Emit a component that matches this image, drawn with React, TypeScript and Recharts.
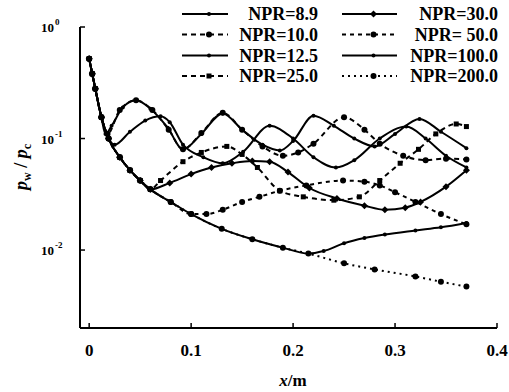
import { LineChart, Line, XAxis, YAxis } from "recharts";

// shared wall-pressure decay before separation
const envelope: [number, number][] = [
  [0, 0.52], [0.003, 0.38], [0.006, 0.28], [0.012, 0.155], [0.019, 0.1],
  [0.03, 0.068], [0.04, 0.052], [0.05, 0.042], [0.06, 0.035], [0.08, 0.027],
  [0.1, 0.021], [0.13, 0.0155], [0.16, 0.0125], [0.19, 0.0105], [0.215, 0.0093],
];

// each NPR: where it leaves the envelope, then its own points
const tail89: [number, number][] = [
  [0.016, 0.11], [0.022, 0.13], [0.033, 0.19], [0.046, 0.22], [0.06, 0.185],
  [0.077, 0.125], [0.092, 0.08], [0.11, 0.11], [0.131, 0.168], [0.15, 0.12],
  [0.17, 0.088], [0.187, 0.078], [0.2, 0.095], [0.22, 0.16], [0.24, 0.13],
  [0.26, 0.1], [0.28, 0.085], [0.3, 0.11], [0.324, 0.15], [0.345, 0.115], [0.37, 0.082],
];
const tail10: [number, number][] = [
  [0.018, 0.11], [0.03, 0.18], [0.046, 0.22], [0.062, 0.18], [0.078, 0.12],
  [0.092, 0.08], [0.11, 0.112], [0.131, 0.17], [0.15, 0.12], [0.17, 0.085],
  [0.19, 0.07], [0.205, 0.075], [0.22, 0.09], [0.25, 0.155], [0.27, 0.12],
  [0.285, 0.09], [0.308, 0.07], [0.33, 0.064], [0.35, 0.066], [0.37, 0.065],
];
const tail125: [number, number][] = [
  [0.025, 0.088], [0.04, 0.115], [0.055, 0.145], [0.07, 0.158], [0.079, 0.14],
  [0.092, 0.088], [0.112, 0.068], [0.131, 0.06], [0.151, 0.076], [0.177, 0.13],
  [0.2, 0.1], [0.22, 0.068], [0.242, 0.055], [0.26, 0.064], [0.285, 0.1],
  [0.311, 0.128], [0.33, 0.1], [0.35, 0.07], [0.37, 0.055],
];
const tail25: [number, number][] = [
  [0.07, 0.042], [0.092, 0.062], [0.11, 0.075], [0.135, 0.085], [0.15, 0.072],
  [0.165, 0.055], [0.187, 0.034], [0.21, 0.03], [0.24, 0.028], [0.265, 0.03],
  [0.285, 0.042], [0.305, 0.06], [0.323, 0.08], [0.34, 0.11], [0.36, 0.135], [0.37, 0.128],
];
const tail30: [number, number][] = [
  [0.079, 0.04], [0.1, 0.048], [0.12, 0.055], [0.14, 0.06], [0.16, 0.063],
  [0.177, 0.062], [0.195, 0.05], [0.216, 0.036], [0.243, 0.029], [0.27, 0.025],
  [0.29, 0.023], [0.31, 0.024], [0.325, 0.027], [0.35, 0.037], [0.37, 0.052],
];
const tail50: [number, number][] = [
  [0.115, 0.021], [0.131, 0.023], [0.15, 0.027], [0.167, 0.03], [0.187, 0.034],
  [0.213, 0.038], [0.249, 0.042], [0.27, 0.041], [0.285, 0.038], [0.3, 0.033],
  [0.32, 0.027], [0.345, 0.021], [0.37, 0.017],
];
const tail100: [number, number][] = [
  [0.23, 0.0098], [0.25, 0.0115], [0.27, 0.0128], [0.29, 0.0138], [0.32, 0.015],
  [0.345, 0.016], [0.37, 0.0175],
];
const tail200: [number, number][] = [
  [0.25, 0.0076], [0.28, 0.0067], [0.32, 0.0058], [0.345, 0.0052], [0.37, 0.0047],
];

const xTicks = [0, 0.1, 0.2, 0.3, 0.4];
const yTicks = [0.01, 0.1, 1];
const yExponents: Record<string, string> = { "0.01": "-2", "0.1": "-1", "1": "0" };

const build = (until: number, tail: [number, number][]) =>
  [...envelope.filter((p) => p[0] <= until), ...tail].map(([x, y]) => ({ x, y }));

type DotKind = "small" | "big" | "square" | "diamond";

const series: { name: string; data: { x: number; y: number }[]; dash?: string; dot: DotKind }[] = [
  { name: "NPR=8.9", data: build(0.012, tail89), dot: "small" },
  { name: "NPR=10.0", data: build(0.012, tail10), dash: "5 4", dot: "big" },
  { name: "NPR=12.5", data: build(0.019, tail125), dot: "small" },
  { name: "NPR=25.0", data: build(0.06, tail25), dash: "5 4", dot: "square" },
  { name: "NPR=30.0", data: build(0.06, tail30), dot: "diamond" },
  { name: "NPR= 50.0", data: build(0.1, tail50), dash: "4 4", dot: "big" },
  { name: "NPR=100.0", data: build(0.215, tail100), dot: "small" },
  { name: "NPR=200.0", data: build(0.215, tail200), dash: "2 4", dot: "big" },
];

const FONT = '"Liberation Serif", "Times New Roman", serif';
const AXIS_X = 80;

const Marker = ({ kind, cx, cy }: { kind: DotKind; cx: number; cy: number }) => {
  if (kind === "square") return <rect x={cx - 2.5} y={cy - 2.5} width={5} height={5} fill="#000" />;
  if (kind === "diamond")
    return <path d={`M${cx},${cy - 3.5}L${cx + 3.5},${cy}L${cx},${cy + 3.5}L${cx - 3.5},${cy}Z`} fill="#000" />;
  return <circle cx={cx} cy={cy} r={kind === "big" ? 3 : 2} fill="#000" />;
};

const dotFor = (kind: DotKind, name: string) => (props: any) => {
  const { cx, cy, index } = props;
  if (cx == null || cy == null) return <g key={`${name}-${index}`} />;
  return (
    <g key={`${name}-${index}`}>
      <Marker kind={kind} cx={cx} cy={cy} />
    </g>
  );
};

const XTick = ({ x, y, payload }: any) => (
  <g>
    <line x1={x} x2={x} y1={y} y2={y - 5} stroke="#000" strokeWidth={1.5} />
    <text x={x} y={y + 28} textAnchor="middle" fontFamily={FONT} fontSize={17} fontWeight="bold" fill="#000">
      {payload.value}
    </text>
  </g>
);

const YTick = ({ y, payload }: any) => (
  <g>
    <line x1={AXIS_X} x2={AXIS_X + 5} y1={y} y2={y} stroke="#000" strokeWidth={1.5} />
    <text x={AXIS_X - 26} y={y + 5} textAnchor="end" fontFamily={FONT} fontSize={13} fontWeight="bold" fill="#000">
      10
    </text>
    <text x={AXIS_X - 25} y={y - 2} textAnchor="start" fontFamily={FONT} fontSize={9} fontWeight="bold" fill="#000">
      {yExponents[String(payload.value)]}
    </text>
  </g>
);

const legendCols = [
  { lineX1: 182, lineX2: 228, textRight: 318 },
  { lineX1: 342, lineX2: 397, textRight: 498 },
];
const legendRows = [14, 34.5, 55.5, 76];

export default function App() {
  return (
    <div style={{ position: "absolute", left: 0, top: 0, width: 509, height: 392, background: "#fff" }}>
      <LineChart width={509} height={392} margin={{ top: 27, right: 12, bottom: 0, left: 0 }}>
        <XAxis
          type="number"
          dataKey="x"
          domain={[-0.009, 0.4]}
          ticks={xTicks}
          allowDataOverflow
          height={64}
          tickSize={0}
          tickMargin={0}
          tickLine={false}
          tick={<XTick />}
          axisLine={{ stroke: "#000", strokeWidth: 2 }}
        />
        <YAxis
          type="number"
          scale="log"
          domain={[0.002, 1]}
          ticks={yTicks}
          allowDataOverflow
          width={80}
          tickSize={0}
          tickMargin={0}
          tickLine={false}
          tick={<YTick />}
          axisLine={{ stroke: "#000", strokeWidth: 2 }}
        />
        {series.map((s) => (
          <Line
            key={s.name}
            name={s.name}
            data={s.data}
            dataKey="y"
            type="monotone"
            stroke="#000"
            strokeWidth={2}
            strokeDasharray={s.dash}
            dot={dotFor(s.dot, s.name)}
            activeDot={false}
            isAnimationActive={false}
          />
        ))}
      </LineChart>
      <svg width={509} height={392} style={{ position: "absolute", left: 0, top: 0, pointerEvents: "none" }}>
        {series.map((s, i) => {
          const col = legendCols[Math.floor(i / 4)];
          const y = legendRows[i % 4];
          const mid = (col.lineX1 + col.lineX2) / 2 + 4;
          return (
            <g key={s.name}>
              <line x1={col.lineX1} x2={col.lineX2} y1={y} y2={y} stroke="#000" strokeWidth={2} strokeDasharray={s.dash} />
              <Marker kind={s.dot} cx={mid} cy={y} />
              <text x={col.textRight} y={y + 6} textAnchor="end" fontFamily={FONT} fontSize={18} fontWeight="bold" fill="#000" style={{ whiteSpace: "pre" }}>
                {s.name}
              </text>
            </g>
          );
        })}
        <text x={293} y={386} textAnchor="middle" fontFamily={FONT} fontSize={17} fontWeight="bold" fill="#000">
          <tspan fontStyle="italic">x</tspan>/m
        </text>
        <text x={27} y={167} transform="rotate(-90 27 167)" textAnchor="middle" fontFamily={FONT} fontSize={18} fontWeight="bold" fill="#000">
          <tspan fontStyle="italic">p</tspan>
          <tspan fontSize={12} dy={4}>w</tspan>
          <tspan dy={-4}> / </tspan>
          <tspan fontStyle="italic">p</tspan>
          <tspan fontSize={12} dy={4}>c</tspan>
        </text>
      </svg>
    </div>
  );
}
